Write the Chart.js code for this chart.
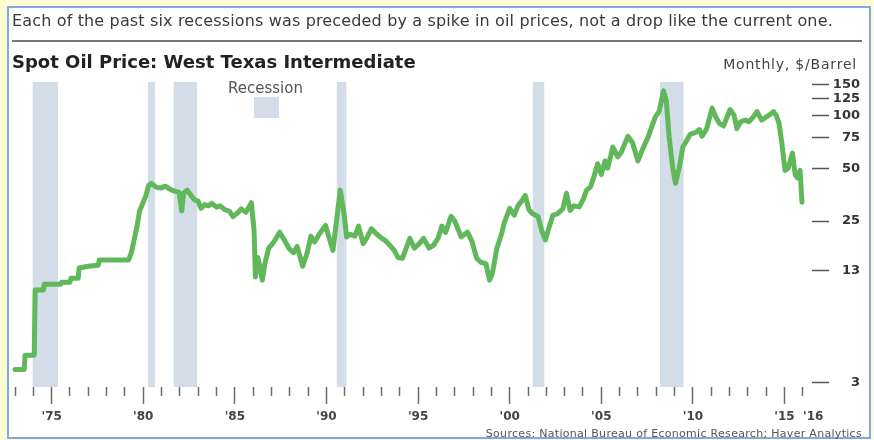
<!DOCTYPE html>
<html>
<head>
<meta charset="utf-8">
<script src="https://cdn.jsdelivr.net/npm/chart.js@4.4.1/dist/chart.umd.min.js"></script>
<style>
  body { margin: 0; width: 874px; height: 440px; overflow: hidden; background: #fffbd2; font-family: "DejaVu Sans", sans-serif; }
  #panel { position: absolute; left: 7px; top: 6px; width: 864px; height: 433px; box-sizing: border-box; border: 2px solid #7eaae0; background: #fff; }
  #wrap { position: absolute; left: 0; top: 0; width: 874px; height: 440px; z-index: 1; }
  .txt { position: absolute; z-index: 2; white-space: nowrap; color: #333; }
  #sub { left: 12px; top: 13px; font-size: 16px; line-height: 16px; letter-spacing: 0.15px; color: #3a3a3a; }
  #rule { position: absolute; z-index: 2; left: 12px; top: 40px; width: 850px; height: 2px; background: #777; }
  #title { left: 12px; top: 53px; font-size: 18px; line-height: 18px; font-weight: bold; color: #222; }
  #unit { right: 17px; top: 57px; font-size: 14px; line-height: 14px; letter-spacing: 0.8px; color: #444; }
  #recLabel { left: 228px; top: 81px; font-size: 15px; line-height: 15px; color: #555; }
  #recBox { position: absolute; z-index: 2; left: 254px; top: 97px; width: 25px; height: 21px; background: #d3dde8; }
  #src { right: 12px; top: 428px; font-size: 11px; line-height: 11px; letter-spacing: 0.3px; color: #555; }
</style>
</head>
<body>
<div id="panel"></div>
<div class="txt" id="sub">Each of the past six recessions was preceded by a spike in oil prices, not a drop like the current one.</div>
<div id="rule"></div>
<div class="txt" id="title">Spot Oil Price: West Texas Intermediate</div>
<div class="txt" id="unit">Monthly, $/Barrel</div>
<div class="txt" id="recLabel">Recession</div>
<div id="recBox"></div>
<div class="txt" id="src">Sources: National Bureau of Economic Research; Haver Analytics</div>
<div id="wrap"><canvas id="myChart"></canvas></div>
<script>
// WTI spot price (decimal year, $/barrel)
const years = [
  1973.00, 1973.50, 1973.55, 1974.05, 1974.10, 1974.55, 1974.60, 1975.50, 1975.55, 1976.00,
  1976.05, 1976.45, 1976.50, 1977.00, 1977.55, 1977.60, 1979.20, 1979.35, 1979.50, 1979.65,
  1979.80, 1980.00, 1980.15, 1980.30, 1980.45, 1980.70, 1980.95, 1981.20, 1981.45, 1981.70,
  1981.95, 1982.10, 1982.20, 1982.40, 1982.60, 1982.80, 1983.00, 1983.15, 1983.35, 1983.55,
  1983.75, 1984.00, 1984.20, 1984.45, 1984.70, 1984.90, 1985.10, 1985.35, 1985.60, 1985.90,
  1986.05, 1986.12, 1986.25, 1986.35, 1986.50, 1986.65, 1986.85, 1987.10, 1987.45, 1987.70,
  1987.95, 1988.20, 1988.40, 1988.70, 1988.95, 1989.15, 1989.35, 1989.60, 1989.95, 1990.15,
  1990.35, 1990.55, 1990.75, 1990.95, 1991.10, 1991.30, 1991.55, 1991.75, 1992.00, 1992.20,
  1992.45, 1992.75, 1993.00, 1993.20, 1993.45, 1993.70, 1993.90, 1994.15, 1994.35, 1994.55,
  1994.80, 1995.05, 1995.30, 1995.60, 1995.85, 1996.10, 1996.30, 1996.50, 1996.80, 1997.00,
  1997.35, 1997.70, 1997.95, 1998.20, 1998.45, 1998.70, 1998.90, 1999.05, 1999.30, 1999.55,
  1999.70, 2000.00, 2000.25, 2000.45, 2000.70, 2000.85, 2001.05, 2001.25, 2001.55, 2001.75,
  2001.95, 2002.15, 2002.35, 2002.60, 2002.90, 2003.10, 2003.30, 2003.50, 2003.80, 2004.00,
  2004.20, 2004.40, 2004.55, 2004.80, 2005.00, 2005.20, 2005.35, 2005.63, 2005.90, 2006.10,
  2006.45, 2006.70, 2007.00, 2007.25, 2007.55, 2007.75, 2007.95, 2008.15, 2008.40, 2008.55,
  2008.70, 2008.90, 2009.05, 2009.25, 2009.45, 2009.60, 2009.85, 2010.15, 2010.35, 2010.50,
  2010.75, 2011.05, 2011.25, 2011.45, 2011.67, 2011.85, 2012.03, 2012.25, 2012.40, 2012.60,
  2012.85, 2013.05, 2013.30, 2013.50, 2013.75, 2013.95, 2014.20, 2014.40, 2014.55, 2014.70,
  2014.85, 2015.03, 2015.20, 2015.43, 2015.58, 2015.70, 2015.85, 2015.95
]
const prices = [
  3.56, 3.56, 4.3, 4.3, 10.1, 10.1, 10.9, 10.9, 11.2, 11.2,
  11.8, 11.8, 13.5, 13.8, 14.0, 15.0, 15.0, 16.5, 19.5, 23,
  28.5, 32, 35, 40, 41, 39, 38.5, 39.5, 38, 37,
  36.5, 28.5, 36, 37.5, 35, 33, 32.5, 29.5, 31, 30.5,
  31.5, 30, 30.5, 29, 28.5, 26.5, 27.5, 29.3, 28, 31.8,
  22, 12, 15.5, 14, 11.5, 14.5, 17.5, 18.8, 21.6, 19.5,
  17.5, 16.5, 17.9, 13.8, 16.5, 20.5, 19, 21, 23.6, 20,
  17, 25, 37.5, 28, 20.3, 21, 20.5, 23.4, 18.6, 20,
  22.6, 21, 20, 19.4, 18.2, 17, 15.5, 15.3, 17.5, 19.9,
  17.5, 18.5, 19.9, 17.5, 18.2, 20, 23.4, 21.5, 26.6, 25,
  20.3, 21.6, 19, 15.3, 14.5, 14.3, 11.5, 12.5, 17.5, 21,
  24.3, 29.5, 27, 30.5, 33, 35, 29, 27.5, 26.5, 22,
  19.5, 23, 26.9, 27.5, 29.3, 36, 28.7, 30.5, 30.1, 33,
  37.5, 39, 43, 53, 46, 55, 50, 66, 58, 62,
  76, 70, 55, 64, 75, 86, 98, 105, 138, 120,
  76, 50, 41, 50, 66, 70, 78, 80, 83, 76,
  84, 110, 98, 90, 87, 97, 108, 100, 84, 92,
  94, 92, 98, 105, 94, 97, 101, 105, 100, 90,
  70, 48.6, 50, 61, 46, 44, 48.6, 32
]

// NBER recessions as they sit on the picture
const recStart = [1973.95, 1980.25, 1981.65, 1990.55, 2001.25, 2008.2]
const recEnd = [1975.35, 1980.65, 1982.95, 1991.1, 2001.9, 2009.5]

// axis ticks
const tickYears = Array.from({ length: 44 }, (_, i) => 1973 + i)
const labelYears = [1975, 1980, 1985, 1990, 1995, 2000, 2005, 2010, 2015, 2016]
const tickLabels = ["'75", "'80", "'85", "'90", "'95", "'00", "'05", "'10", "'15", "     '16"]
const yTicks = [3, 13, 25, 50, 75, 100, 125, 150]

const Y_MIN = 2.83
const Y_MAX = 155
const GREEN = '#61b85a'
const REC = '#d3dde8'

const recessionSets = recStart.map((s, i) => ({
  type: 'line',
  data: [{ x: s, y: Y_MAX }, { x: recEnd[i], y: Y_MAX }],
  fill: 'start',
  backgroundColor: REC,
  borderWidth: 0,
  pointRadius: 0,
  order: 2
}))

const ctx = document.getElementById('myChart').getContext('2d')

const myChart = new Chart(ctx, {
  type: 'line',
  data: {
    datasets: [{
      label: 'WTI',
      data: years.map((x, i) => ({ x: x, y: prices[i] })),
      borderColor: GREEN,
      borderWidth: 5,
      pointRadius: 0,
      tension: 0,
      borderJoinStyle: 'round',
      borderCapStyle: 'round',
      fill: false,
      clip: false,
      order: 0
    }, ...recessionSets]
  },
  options: {
    responsive: true,
    maintainAspectRatio: false,
    animation: false,
    events: [],
    layout: { padding: { top: 82, left: 15, right: 14, bottom: 13 } },
    plugins: { legend: { display: false }, tooltip: { enabled: false } },
    scales: {
      x: {
        type: 'linear',
        position: 'bottom',
        min: 1973,
        max: 2016.5,
        afterBuildTicks: scale => { scale.ticks = tickYears.map(v => ({ value: v })) },
        afterFit: scale => { scale.height = 40 },
        border: { display: false },
        grid: {
          drawOnChartArea: false,
          tickLength: 17,
          tickWidth: 1.5,
          tickColor: '#6a6a6a',
          // short marks for the plain years, long ones for the five-year marks
          tickBorderDash: c => {
            const v = c.tick ? c.tick.value : 0
            return (v % 5 === 0) ? [] : [9, 40]
          }
        },
        ticks: {
          autoSkip: false,
          maxRotation: 0,
          padding: 6,
          color: '#444',
          font: { family: 'DejaVu Sans', size: 12, weight: 'bold' },
          callback: v => {
            const i = labelYears.indexOf(v)
            return i >= 0 ? tickLabels[i] : ''
          }
        }
      },
      y: {
        type: 'logarithmic',
        position: 'right',
        min: Y_MIN,
        max: Y_MAX,
        afterBuildTicks: scale => { scale.ticks = yTicks.map(v => ({ value: v })) },
        afterFit: scale => { scale.width = 48 },
        border: { display: false },
        grid: {
          drawOnChartArea: false,
          tickLength: 17,
          tickWidth: 1.5,
          tickColor: '#555'
        },
        ticks: {
          crossAlign: 'far',
          padding: 2,
          color: '#333',
          font: { family: 'DejaVu Sans', size: 13, weight: 'bold' },
          callback: v => String(v)
        }
      }
    }
  }
})
</script>
</body>
</html>
